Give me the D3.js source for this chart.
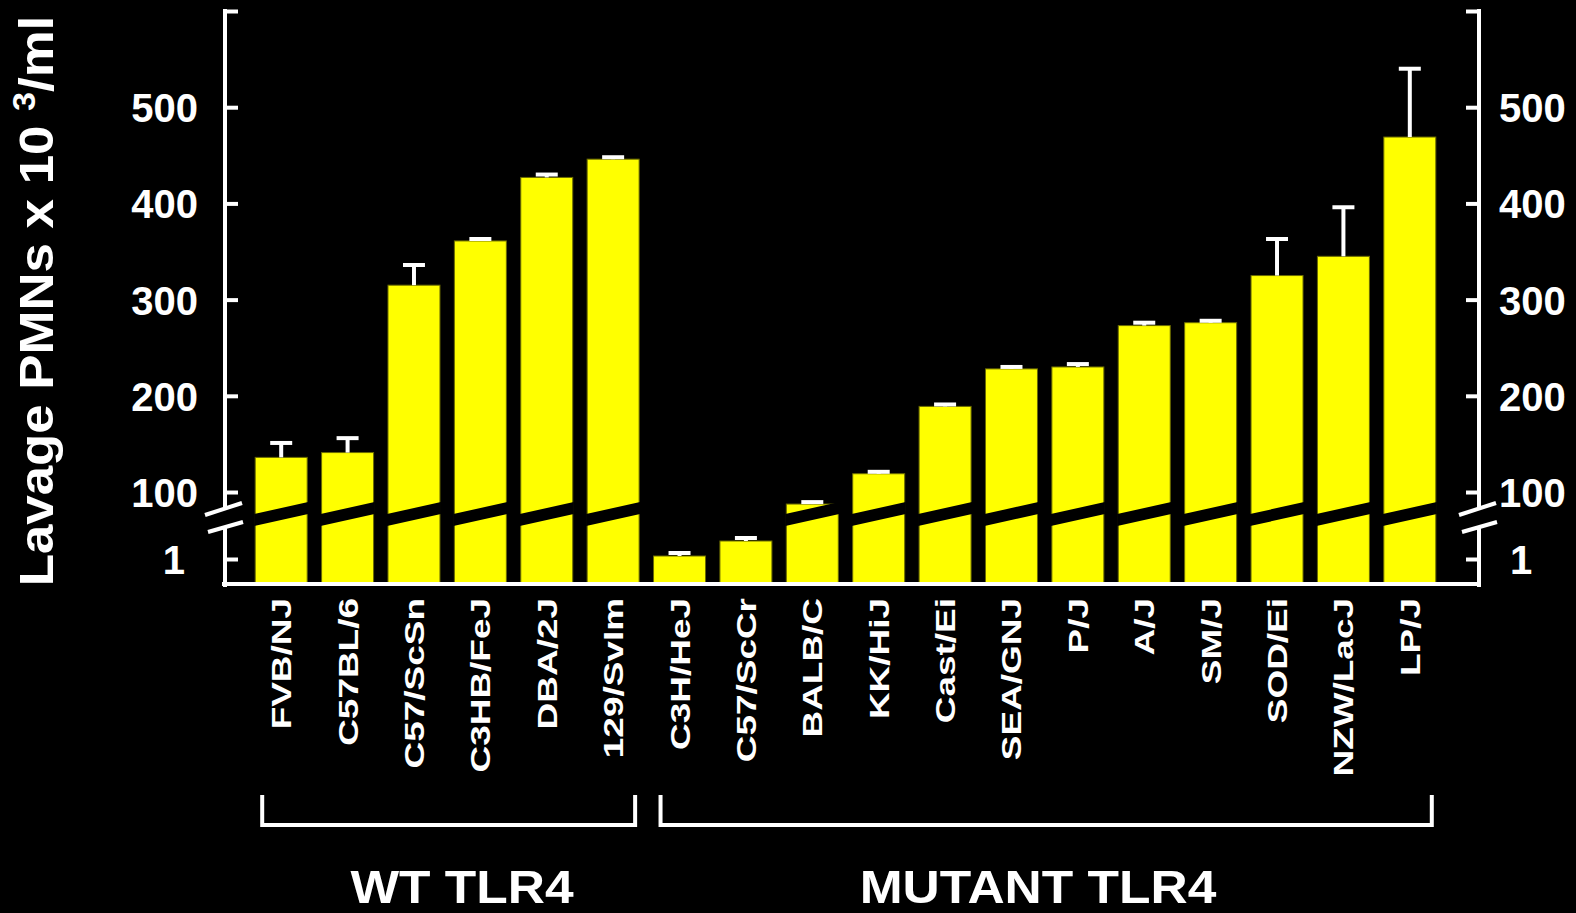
<!DOCTYPE html>
<html><head><meta charset="utf-8">
<script src="https://cdn.jsdelivr.net/npm/d3@7"></script>
<style>
body{margin:0;background:#000;}
svg{display:block;background:#000;}
text{font-family:"Liberation Sans",Arial,sans-serif;font-weight:bold;fill:#fff;}
</style>
</head><body>
<svg id="c" width="1576" height="913"></svg>
<script>
const categories = ["FVB/NJ","C57BL/6","C57/ScSn","C3HB/FeJ","DBA/2J","129/SvIm","C3H/HeJ","C57/ScCr","BALB/C","KK/HiJ","Cast/Ei","SEA/GNJ","P/J","A/J","SM/J","SOD/Ei","NZW/LacJ","LP/J"];
const values = [136,141,315,361,427,446,1.12,1.72,87.5,119,189,228,230,273,276,325,345,469];
const errors = [15,15,21,2,3,2,0.12,0.12,2,2,2,2,3,3,2,38,51,71];
const groupLabels = ["WT TLR4","MUTANT TLR4"];
const groupFirst = ["FVB/NJ","C3H/HeJ"];
const groupLast = ["129/SvIm","LP/J"];
const tickValues = [1,100,200,300,400,500,600];
const tickLabels = ["1","100","200","300","400","500",""];

const svg = d3.select("#c");
const baseY = 584, leftX = 225, rightX = 1479;

const x = d3.scaleBand().domain(categories).range([248,1443]).paddingInner(0.217).paddingOuter(0.1085);
// broken axis: lower segment 0-2, upper segment 60-600
const y = d3.scaleLinear().domain([0,2,60,600]).range([baseY,534,530.5,11]);
const bw = x.bandwidth();

const data = categories.map((c,i)=>({c, v:values[i], e:errors[i]}));

// bars
svg.append("g").selectAll("rect").data(data).join("rect")
  .attr("x", d=>x(d.c)).attr("y", d=>y(d.v))
  .attr("width", bw).attr("height", d=>baseY - y(d.v))
  .attr("fill","#ffff00").attr("stroke","#6a6a00").attr("stroke-width",1);

// break stripes across bars in the upper segment
const bTop = y(100)+22, slope = 12;
svg.append("g").selectAll("polygon").data(data.filter(d=>d.v>2)).join("polygon")
  .attr("points", d=>{
    const x0 = x(d.c)-1, x1 = x(d.c)+bw+1;
    return [[x0,bTop],[x1,bTop-slope],[x1,bTop],[x0,bTop+slope]].map(p=>p.join(",")).join(" ");
  })
  .attr("fill","#000");

// error bars
const eb = svg.append("g").attr("stroke","#fff").attr("stroke-width",4);
data.forEach(d=>{
  const cx = x(d.c)+bw/2;
  eb.append("line").attr("x1",cx).attr("x2",cx).attr("y1",y(d.v)).attr("y2",y(d.v+d.e));
  eb.append("line").attr("x1",cx-11).attr("x2",cx+11).attr("y1",y(d.v+d.e)).attr("y2",y(d.v+d.e));
});

// axes (ticks + labels)
const fmt = d=>tickLabels[tickValues.indexOf(d)];
const axL = svg.append("g").attr("transform",`translate(${leftX},0)`)
  .call(d3.axisLeft(y).tickValues(tickValues).tickSize(-13).tickPadding(27).tickFormat(fmt));
const axR = svg.append("g").attr("transform",`translate(${rightX},0)`)
  .call(d3.axisRight(y).tickValues(tickValues).tickSize(-13).tickPadding(20).tickFormat(fmt));
[axL,axR].forEach(a=>{
  a.select(".domain").remove();
  a.selectAll(".tick line").attr("stroke","#fff").attr("stroke-width",4);
  a.selectAll(".tick text").attr("fill","#fff").style("font-size","40px")
    .style("font-family","'Liberation Sans',Arial,sans-serif").style("font-weight","bold")
    .attr("dy","0.36em");
});
axL.selectAll(".tick text").filter(d=>d===1).attr("x",-40);
axR.selectAll(".tick text").filter(d=>d===1).attr("x",31);

// axis lines with break
const gapTop = y(100)+16, gapBot = y(100)+34;
const axLines = svg.append("g").attr("stroke","#fff").attr("stroke-width",4).attr("fill","none");
[leftX,rightX].forEach(ax=>{
  axLines.append("line").attr("x1",ax).attr("x2",ax).attr("y1",y(600)-2).attr("y2",gapTop);
  axLines.append("line").attr("x1",ax).attr("x2",ax).attr("y1",gapBot).attr("y2",baseY+3);
  axLines.append("line").attr("x1",ax-20).attr("x2",ax+17).attr("y1",y(100)+23).attr("y2",y(100)+11);
  axLines.append("line").attr("x1",ax-17).attr("x2",ax+18).attr("y1",y(100)+40).attr("y2",y(100)+30);
});
axLines.append("line").attr("x1",leftX-3).attr("x2",rightX+2).attr("y1",baseY).attr("y2",baseY);

// x labels
svg.append("g").selectAll("text").data(categories).join("text")
  .attr("transform", c=>`translate(${x(c)+bw/2+10},598) rotate(-90) scale(1.32,1)`)
  .attr("text-anchor","end").style("font-size","28px").text(c=>c);

// group brackets
const br = svg.append("g").attr("stroke","#fff").attr("stroke-width",4).attr("fill","none");
const labelX = [462,1038];
groupLabels.forEach((g,i)=>{
  const x0 = x(groupFirst[i])+7, x1 = x(groupLast[i])+bw-4;
  br.append("path").attr("d",`M${x0},795V825H${x1}V795`);
  svg.append("text").attr("transform",`translate(${labelX[i]},903) scale(1.12,1)`)
    .attr("text-anchor","middle").style("font-size","46px").text(g);
});

// y title
const yt = svg.append("text").attr("transform","translate(53,301) rotate(-90) scale(1.1,1)")
  .attr("text-anchor","middle").style("font-size","48px");
yt.append("tspan").text("Lavage PMNs x 10 ");
yt.append("tspan").style("font-size","31px").attr("dy",-18).text("3");
yt.append("tspan").attr("dy",18).text("/ml");
</script>
</body></html>
